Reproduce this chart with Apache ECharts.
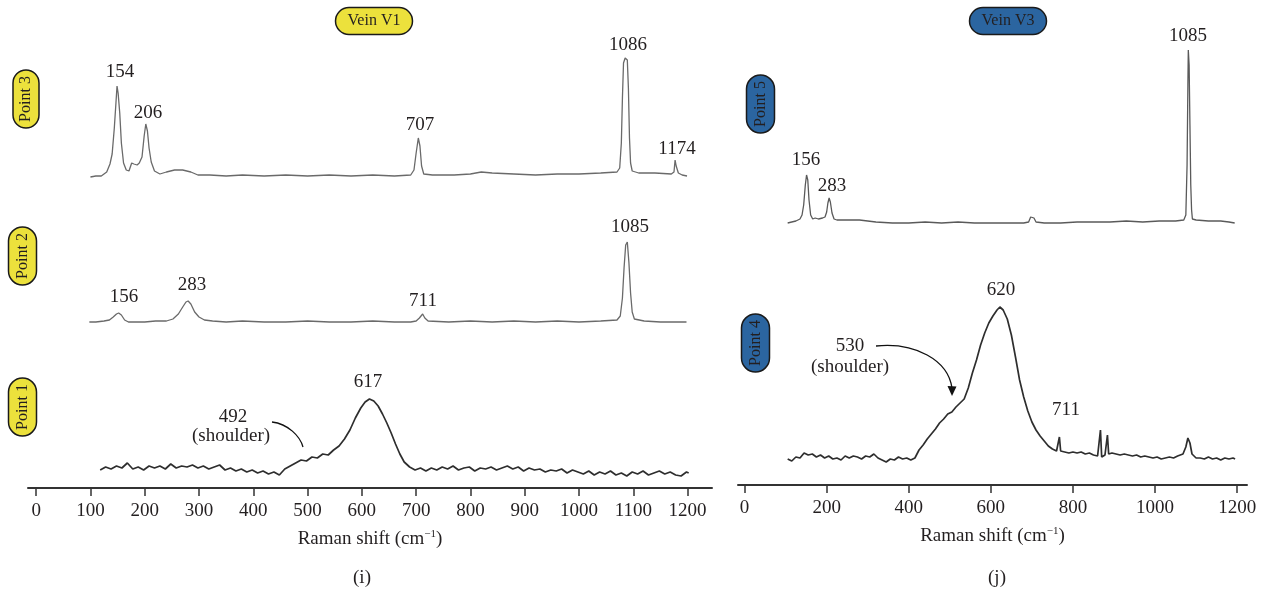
<!DOCTYPE html>
<html><head><meta charset="utf-8">
<script src="https://cdn.jsdelivr.net/npm/echarts@6/dist/echarts.min.js"></script>
<style>html,body{margin:0;padding:0;background:#fff}#c{width:1267px;height:592px}</style>
</head><body><div id="c"></div>
<script>
// Tick labels
const leftTicks = [0,100,200,300,400,500,600,700,800,900,1000,1100,1200];
const rightTicks = [0,200,400,600,800,1000,1200];

// Panel (i) spectra: [Raman shift, stacked intensity (a.u.)]
const point3 = [[100,311],[110,312],[120,312],[130,316],[136,324],[140,334],[144,360],[147,385],[149,402],[151,395],[154,375],[157,345],[161,325],[166,318],[171,317],[176,325],[180,324],[186,323],[190,325],[195,331],[199,352],[202,364],[205,357],[208,340],[212,326],[218,317],[228,314],[240,316],[255,318],[270,318],[285,316],[298,313],[320,313],[350,312],[380,313],[420,312],[460,313],[500,312],[540,313],[580,312],[620,313],[660,312],[690,313],[696,318],[700,335],[704,350],[707,342],[710,322],[714,314],[730,313],[770,313],[800,314],[820,316],[840,315],[880,314],[920,313],[960,314],[1000,314],[1040,315],[1070,316],[1075,320],[1078,345],[1080,390],[1082,425],[1085,430],[1089,428],[1091,400],[1093,350],[1095,325],[1098,317],[1110,315],[1140,315],[1170,314],[1175,316],[1177,328],[1179,322],[1183,315],[1190,313],[1199,312]];
const point2 = [[98,166],[110,166],[125,167],[135,168],[142,171],[148,174],[152,175],[157,173],[163,168],[170,166],[185,166],[200,166],[220,167],[240,167],[252,169],[262,174],[270,181],[276,186],[280,187],[285,184],[292,176],[300,171],[310,168],[325,167],[350,166],[380,167],[420,166],[460,166],[500,167],[540,166],[580,166],[620,167],[660,166],[690,166],[700,167],[706,170],[712,174],[716,170],[722,167],[760,166],[800,167],[840,166],[880,167],[920,166],[960,167],[1000,166],[1040,167],[1070,168],[1076,172],[1080,190],[1083,220],[1086,243],[1089,246],[1092,225],[1095,195],[1098,176],[1102,169],[1120,167],[1150,166],[1180,166],[1198,166]];
const point1 = [[118,18],[128,21],[138,19],[148,22],[158,20],[168,25],[178,19],[188,21],[198,18],[208,22],[218,20],[228,22],[238,19],[248,24],[258,20],[268,22],[278,21],[288,23],[298,20],[308,22],[318,19],[328,21],[338,23],[348,18],[358,20],[368,17],[378,19],[388,16],[398,18],[408,15],[418,17],[428,14],[438,16],[448,13],[458,19],[468,22],[478,25],[488,28],[498,27],[508,31],[518,30],[528,34],[538,33],[548,38],[558,42],[568,49],[578,58],[588,70],[598,80],[606,86],[614,89],[622,87],[630,82],[638,74],[646,65],[654,55],[662,44],[670,34],[678,26],[688,21],[698,18],[708,20],[718,17],[728,20],[738,18],[748,21],[758,19],[768,22],[778,18],[788,20],[798,21],[808,17],[818,20],[828,19],[838,21],[848,18],[858,20],[868,22],[878,19],[888,21],[898,17],[908,20],[918,18],[928,19],[938,16],[948,18],[958,17],[968,19],[978,15],[988,18],[998,16],[1008,14],[1018,17],[1028,13],[1038,16],[1048,14],[1058,17],[1068,13],[1078,15],[1088,12],[1098,16],[1108,14],[1118,17],[1128,13],[1138,15],[1148,17],[1158,14],[1168,16],[1178,13],[1188,12],[1198,16],[1202,15]];

// Panel (j) spectra
const point5 = [[105,262],[115,263],[125,264],[135,266],[140,270],[144,280],[148,300],[151,310],[154,305],[157,285],[161,270],[166,266],[172,267],[180,266],[190,267],[196,268],[200,273],[203,282],[206,287],[209,283],[213,272],[218,266],[225,265],[240,265],[260,265],[280,265],[300,264],[320,263],[360,262],[400,262],[440,263],[480,262],[520,263],[560,262],[600,262],[640,262],[680,262],[692,263],[697,268],[701,270],[705,267],[710,263],[730,262],[770,262],[810,263],[850,263],[890,263],[930,264],[970,263],[1010,264],[1050,264],[1070,265],[1075,270],[1078,320],[1080,400],[1081,435],[1083,420],[1085,360],[1087,300],[1089,275],[1091,266],[1100,265],[1130,264],[1160,264],[1180,263],[1194,262]];
const point4 = [[105,26],[115,24],[125,28],[135,27],[145,32],[155,30],[165,31],[175,28],[185,30],[195,27],[205,29],[215,26],[225,27],[235,25],[245,29],[255,27],[265,29],[275,28],[285,26],[295,29],[305,28],[315,31],[325,27],[335,25],[345,23],[355,26],[365,25],[375,28],[385,26],[395,27],[405,25],[415,27],[425,35],[435,40],[445,46],[455,51],[465,56],[475,62],[485,66],[495,71],[505,73],[515,78],[525,82],[535,86],[545,97],[555,112],[565,125],[575,140],[585,152],[595,162],[605,169],[615,175],[622,178],[630,175],[640,166],[650,150],[660,128],[670,105],[680,88],[690,74],[700,63],[710,55],[720,49],[730,44],[740,39],[750,36],[760,34],[764,35],[767,48],[770,34],[780,33],[790,32],[800,33],[810,32],[820,33],[830,31],[840,32],[850,30],[860,29],[864,30],[867,55],[870,28],[878,30],[881,31],[884,50],[887,31],[895,32],[905,31],[915,30],[925,31],[935,30],[945,29],[955,30],[965,28],[975,29],[985,28],[995,27],[1005,28],[1015,26],[1025,27],[1035,28],[1045,27],[1055,29],[1068,31],[1075,38],[1080,47],[1085,42],[1090,31],[1100,27],[1110,27],[1120,26],[1130,28],[1140,26],[1150,27],[1160,25],[1170,27],[1180,26],[1190,27],[1195,26]];

const SERIF = '"Liberation Serif", "DejaVu Serif", serif';
const INK = '#231f20';
const YELLOW = '#ece13c';
const BLUE = '#2b65a0';

function pill(cx, cy, w, h, text, fill, vertical) {
  return {
    type: 'group', x: cx, y: cy, rotation: vertical ? Math.PI / 2 : 0,
    children: [
      { type: 'rect', shape: { x: -w / 2, y: -h / 2, width: w, height: h, r: h / 2 },
        style: { fill: fill, stroke: '#1a1a1a', lineWidth: 1.5 } },
      { type: 'text', style: { text: text, x: 0, y: 0, align: 'center', verticalAlign: 'middle',
        font: '16px ' + SERIF, fill: INK } }
    ]
  };
}
function label(x, y, text, size) {
  return { type: 'text', style: { text: text, x: x, y: y, align: 'center', verticalAlign: 'middle',
    font: (size || 19) + 'px ' + SERIF, fill: INK } };
}

function xAxisCfg(gridIndex, min, max, ticks) {
  return {
    type: 'value', gridIndex: gridIndex, min: min, max: max,
    axisLine: { show: true, lineStyle: { color: '#333', width: 2 } },
    axisTick: { show: true, length: 8, customValues: ticks, lineStyle: { color: '#333', width: 1.5 } },
    axisLabel: { customValues: ticks, margin: 14, fontSize: 19, fontFamily: SERIF, color: INK,
      formatter: function (v) { return String(v); } },
    splitLine: { show: false },
    name: '{a|Raman shift (cm}{b|−1}{a|)}', nameLocation: 'middle', nameGap: 41,
    nameTextStyle: { rich: {
      a: { fontSize: 19, fontFamily: SERIF, color: INK, lineHeight: 20 },
      b: { fontSize: 11, fontFamily: SERIF, color: INK, verticalAlign: 'top', lineHeight: 12 }
    } }
  };
}
function yAxisCfg(gridIndex) {
  return { type: 'value', gridIndex: gridIndex, min: 0, max: 460, show: false };
}
function lineSeries(name, xi, data, color, width) {
  return { name: name, type: 'line', xAxisIndex: xi, yAxisIndex: xi, data: data,
    showSymbol: false, symbol: 'none', smooth: false, animation: false,
    lineStyle: { color: color, width: width } };
}

const chart = echarts.init(document.getElementById('c'));
chart.setOption({
  backgroundColor: '#ffffff',
  animation: false,
  grid: [
    { left: 28, right: 555, top: 28, bottom: 104 },
    { left: 738, right: 20, top: 25, bottom: 107 }
  ],
  xAxis: [xAxisCfg(0, -15, 1245, leftTicks), xAxisCfg(1, -16, 1224, rightTicks)],
  yAxis: [yAxisCfg(0), yAxisCfg(1)],
  series: [
    lineSeries('Point 3', 0, point3, '#6a6a6a', 1.3),
    lineSeries('Point 2', 0, point2, '#6a6a6a', 1.3),
    lineSeries('Point 1', 0, point1, '#2e2e2e', 1.7),
    lineSeries('Point 5', 1, point5, '#5a5a5a', 1.3),
    lineSeries('Point 4', 1, point4, '#2e2e2e', 1.7)
  ],
  graphic: [
    pill(374, 21, 77, 27, 'Vein V1', YELLOW, false),
    pill(1008, 21, 77, 27, 'Vein V3', BLUE, false),
    pill(26, 99, 58, 26, 'Point 3', YELLOW, true),
    pill(22.5, 256, 58, 28, 'Point 2', YELLOW, true),
    pill(22.5, 407, 58, 28, 'Point 1', YELLOW, true),
    pill(760.5, 104, 58, 28, 'Point 5', BLUE, true),
    pill(755.5, 343, 58, 28, 'Point 4', BLUE, true),
    label(120, 72, '154'), label(148, 113, '206'), label(420, 125, '707'),
    label(628, 45, '1086'), label(677, 149, '1174'),
    label(124, 297, '156'), label(192, 285, '283'), label(423, 301, '711'), label(630, 227, '1085'),
    label(368, 382, '617'), label(233, 417, '492'), label(231, 436, '(shoulder)'),
    label(806, 160, '156'), label(832, 186, '283'), label(1188, 36, '1085'),
    label(1001, 290, '620'), label(850, 346, '530'), label(850, 367, '(shoulder)'), label(1066, 410, '711'),
    label(362, 578, '(i)'), label(997, 578, '(j)'),
    { type: 'bezierCurve', shape: { x1: 272, y1: 422, cpx1: 288, cpy1: 424, cpx2: 300, cpy2: 436, x2: 303, y2: 447 },
      style: { stroke: '#111', lineWidth: 1.3, fill: null } },
    { type: 'bezierCurve', shape: { x1: 876, y1: 346, cpx1: 915, cpy1: 342, cpx2: 948, cpy2: 360, x2: 952, y2: 388 },
      style: { stroke: '#111', lineWidth: 1.3, fill: null } },
    { type: 'polygon', shape: { points: [[952, 396], [947.5, 386], [956.5, 386.5]] }, style: { fill: '#111' } }
  ]
});
</script></body></html>
